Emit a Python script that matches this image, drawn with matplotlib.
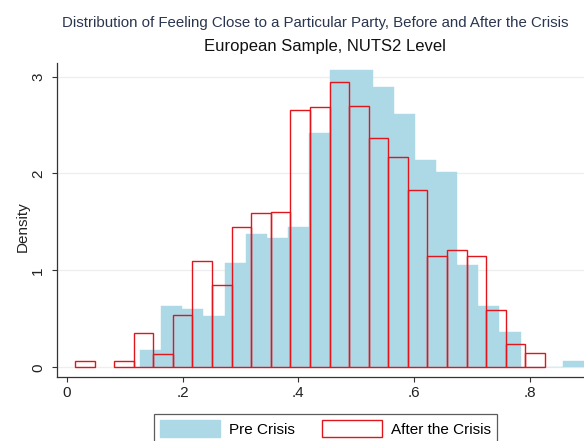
import numpy as np
import matplotlib.pyplot as plt
from matplotlib.patches import Patch

# Histogram data (density per bin)
pre_start = 0.1266
pre_width = 0.0365
pre_density = [0.18, 0.63, 0.60, 0.53, 1.08, 1.38, 1.33, 1.45, 2.42, 3.07,
               3.07, 2.89, 2.61, 2.14, 2.02, 1.06, 0.63, 0.36, 0.0, 0.0, 0.065]

after_start = 0.0143
after_width = 0.0338
after_density = [0.06, 0.0, 0.06, 0.35, 0.14, 0.54, 1.10, 0.85, 1.45, 1.59,
                 1.60, 2.65, 2.69, 2.94, 2.70, 2.37, 2.17, 1.83, 1.15, 1.21,
                 1.15, 0.59, 0.24, 0.15]

x_ticks = [0, 0.2, 0.4, 0.6, 0.8]
x_tick_labels = ["0", ".2", ".4", ".6", ".8"]
y_ticks = [0, 1, 2, 3]

title = "Distribution of Feeling Close to a Particular Party, Before and After the Crisis"
subtitle = "European Sample, NUTS2 Level"
labels = ["Pre Crisis", "After the Crisis"]

blue = "#add8e6"
red = "#e0161c"

plt.rcParams['font.family'] = ['Liberation Sans', 'DejaVu Sans']

fig = plt.figure(figsize=(5.84, 4.41), dpi=100)
ax = fig.add_axes([57/584, 64/441, 527/584, 314/441])

pre_left = pre_start + pre_width * np.arange(len(pre_density))
after_left = after_start + after_width * np.arange(len(after_density))

ax.bar(pre_left, pre_density, width=pre_width, align='edge',
       color=blue, edgecolor=blue, linewidth=0.3, zorder=2)
mask = np.array(after_density) > 0
ax.bar(after_left[mask], np.array(after_density)[mask], width=after_width,
       align='edge', facecolor='none', edgecolor=red, linewidth=1.0, zorder=3)

ax.set_xlim(-0.0167, 0.893)
ax.set_ylim(-0.10, 3.14)

for s in ['top', 'right']:
  ax.spines[s].set_visible(False)
for s in ['left', 'bottom']:
  ax.spines[s].set_color('#333333')
  ax.spines[s].set_linewidth(0.9)

ax.set_xticks(x_ticks)
ax.set_xticklabels(x_tick_labels)
ax.set_yticks(y_ticks)
ax.set_yticklabels([str(v) for v in y_ticks], rotation=90, va='center')
ax.tick_params(axis='both', labelsize=11, length=3.6, width=0.8,
               color='#333333', labelcolor='#222222')
ax.tick_params(axis='y', pad=5)
ax.tick_params(axis='x', pad=3)
ax.yaxis.grid(True, color='#eeeeee', linewidth=0.9, zorder=0)
ax.set_axisbelow(True)

ax.set_ylabel("Density", fontsize=11, color='#222222')
ax.yaxis.set_label_coords(-0.052, 0.48)

# title is clipped on the right in the source; shrink it a bit so it fits
fig.text(62/584, 1 - 26.5/441, title, fontsize=10.8, color='#2a3550',
         ha='left', va='baseline')
fig.text(325/584, 1 - 51/441, subtitle, fontsize=12, color='#111111',
         ha='center', va='baseline')

handles = [Patch(facecolor=blue, edgecolor=blue),
           Patch(facecolor='white', edgecolor=red, linewidth=1.0)]
leg = fig.legend(handles, labels, ncol=2, loc='upper center',
                 bbox_to_anchor=(325.5/584, 1 - 414/441), fontsize=11,
                 frameon=True, fancybox=False, handlelength=3.9,
                 handleheight=1.3, handletextpad=0.6, columnspacing=1.8,
                 borderpad=0.4, borderaxespad=0)
leg.get_frame().set_edgecolor('#333333')
leg.get_frame().set_linewidth(0.9)

fig.savefig("out.png", dpi=100)
